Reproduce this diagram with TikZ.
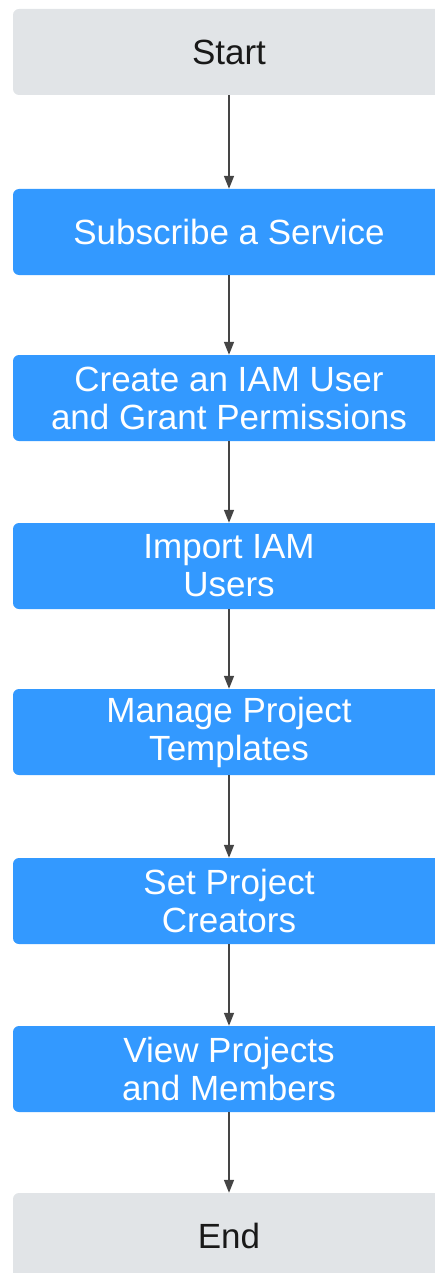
\documentclass[tikz,border=0pt]{standalone}
\usepackage{fontspec}
\setmainfont{Liberation Sans}
\usetikzlibrary{arrows.meta}
\definecolor{stepblue}{HTML}{3399FF}
\definecolor{termgrey}{HTML}{E1E4E7}
\definecolor{flowline}{HTML}{454545}
\begin{document}
\begin{tikzpicture}[x=1pt,y=-1pt,
  box/.style={rectangle,rounded corners=6pt,minimum width=432pt,minimum height=86pt,
    inner sep=0pt,align=center,font=\fontsize{35}{38}\selectfont},
  stepbox/.style={box,fill=stepblue,text=white},
  termbox/.style={box,fill=termgrey,text=black!90},
  flow/.style={draw=flowline,line width=1.5pt,-{Triangle[length=13pt,width=10pt]}}]
  \useasboundingbox (0,0) rectangle (435,1273);
  \clip (0,0) rectangle (435,1273);
  \node[termbox] (start) at (229,52) {Start};
  \node[stepbox] (sub) at (229,232) {Subscribe a Service};
  \node[stepbox] (iam) at (229,398) {Create an IAM User\\and Grant Permissions};
  \node[stepbox] (imp) at (229,566) {Import IAM\\Users};
  \node[stepbox] (tpl) at (229,732) {Manage Project\\Templates};
  \node[stepbox] (cre) at (229,901) {Set Project\\Creators};
  \node[stepbox] (view) at (229,1069) {View Projects\\and Members};
  \node[termbox] (end) at (229,1236) {End};
  \draw[flow] (start) -- (sub);
  \draw[flow] (sub) -- (iam);
  \draw[flow] (iam) -- (imp);
  \draw[flow] (imp) -- (tpl);
  \draw[flow] (tpl) -- (cre);
  \draw[flow] (cre) -- (view);
  \draw[flow] (view) -- (end);
\end{tikzpicture}
\end{document}
